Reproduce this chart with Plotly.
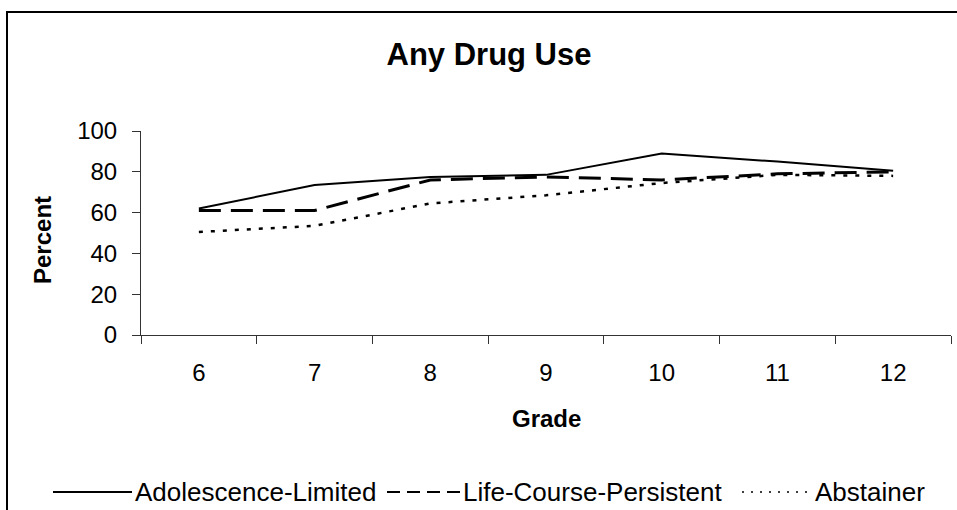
import plotly.graph_objects as go

# Grades surveyed and percent reporting any drug use, by trajectory group
grades = ["6", "7", "8", "9", "10", "11", "12"]
adolescence_limited = [62, 73.5, 77.5, 78.5, 89, 85, 80.5]
life_course_persistent = [61, 61, 76, 77.5, 76, 79, 80]
abstainer = [50.5, 53.5, 64.5, 68.5, 74.5, 78.5, 78]
y_ticks = [0, 20, 40, 60, 80, 100]

FONT = "Liberation Sans, Arial, sans-serif"

series = [
    ("Adolescence-Limited", adolescence_limited, dict(width=2, dash="solid")),
    ("Life-Course-Persistent", life_course_persistent, dict(width=3, dash="22px,10px")),
    ("Abstainer", abstainer, dict(width=2.5, dash="4px,8px")),
]

fig = go.Figure()
for name, vals, style in series:
    fig.add_trace(go.Scatter(
        x=grades, y=vals, mode="lines", name=name,
        line=dict(color="black", **style),
        showlegend=False, hoverinfo="x+y+name",
    ))

W, H = 957, 510
L, R, T, B = 141, 6, 131, 175
pw, ph = W - L - R, H - T - B


def px(x):
    return (x - L) / pw


def py(y):
    return (H - B - y) / ph


fig.update_layout(
    width=W, height=H,
    margin=dict(l=L, r=R, t=T, b=B),
    paper_bgcolor="white", plot_bgcolor="white",
    font=dict(family=FONT, size=24, color="black"),
    title=dict(text="<b>Any Drug Use</b>", x=489 / W, xanchor="center",
               y=1 - 54 / H, yanchor="middle", xref="container", yref="container",
               font=dict(size=31, family=FONT, color="black")),
    showlegend=False,
)

fig.update_xaxes(
    type="category", range=[-0.5, 6.5], tickson="boundaries",
    ticks="outside", ticklen=8, tickcolor="#333", tickwidth=1,
    showline=True, linecolor="#333", linewidth=1, showgrid=False, zeroline=False,
    tickfont=dict(size=24), ticklabelstandoff=16,
)
fig.update_yaxes(
    range=[0, 100], tickvals=y_ticks, ticks="outside", ticklen=8,
    tickcolor="#333", tickwidth=1, showline=True, linecolor="#333", linewidth=1,
    showgrid=False, zeroline=False, tickfont=dict(size=24), ticklabelstandoff=10,
)

# Axis titles
fig.add_annotation(text="<b>Grade</b>", xref="paper", yref="paper",
                   x=px(546), y=py(418), xanchor="center", yanchor="middle",
                   showarrow=False, font=dict(size=24, family=FONT, color="black"))
fig.add_annotation(text="<b>Percent</b>", xref="paper", yref="paper",
                   x=px(42), y=py(240), xanchor="center", yanchor="middle",
                   textangle=-90, showarrow=False,
                   font=dict(size=24, family=FONT, color="black"))

# Outer chart frame (runs off the right and bottom edges)
fig.add_shape(type="rect", xref="paper", yref="paper",
              x0=px(7), x1=px(W + 20), y0=py(H + 20), y1=py(12),
              line=dict(color="black", width=2), fillcolor="rgba(0,0,0,0)")

# Legend drawn along the bottom: sample line followed by its label
legend_items = [
    ("Adolescence-Limited", 53, 132, dict(width=2, dash="solid")),
    ("Life-Course-Persistent", 387, 460, dict(width=2, dash="13px,7px")),
    ("Abstainer", 742, 812, dict(width=1.5, dash="2px,7px")),
]
ly = 492
for label, x0, x1, style in legend_items:
    fig.add_shape(type="line", xref="paper", yref="paper",
                  x0=px(x0), x1=px(x1), y0=py(ly), y1=py(ly),
                  line=dict(color="black", **style))
    fig.add_annotation(text=label, xref="paper", yref="paper",
                       x=px(x1 + 1), y=py(ly), xanchor="left", yanchor="middle",
                       showarrow=False, font=dict(size=26, family=FONT, color="black"))

fig.write_html("out.html")
